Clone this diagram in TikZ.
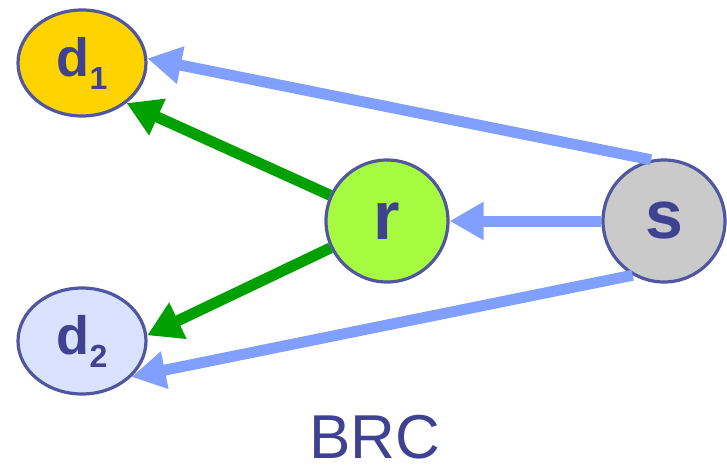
\documentclass[tikz,border=0pt]{standalone}
\usepackage{fontspec}
\setmainfont{Liberation Sans}
\usepackage{xcolor}
\definecolor{brcline}{HTML}{5057A0}
\definecolor{brctext}{HTML}{3F4290}
\definecolor{brcblue}{HTML}{809FFF}
\definecolor{brcgreen}{HTML}{00A000}
\definecolor{brcgold}{HTML}{FFD300}
\definecolor{brcpale}{HTML}{D9E2FF}
\definecolor{brclime}{HTML}{A6FA40}
\definecolor{brcgray}{HTML}{CACACA}
\usepackage{tikz}
\usetikzlibrary{arrows.meta,shapes.geometric}

\begin{document}
\begin{tikzpicture}[x=1pt,y=-1pt,
  dest/.style={ellipse,draw=brcline,line width=3.2pt,minimum width=128pt,minimum height=106pt,
    inner sep=0pt,text=brctext},
  relay/.style={circle,draw=brcline,line width=3.2pt,minimum size=122pt,inner sep=0pt,
    text=brctext,font=\fontsize{68}{68}\selectfont\bfseries},
  barr/.style={-{Triangle[length=34pt,width=36pt]},brcblue,line width=11pt},
  garr/.style={-{Triangle[length=34pt,width=38pt]},brcgreen,line width=11pt}]
\useasboundingbox (0,0) rectangle (727,465);
% destinations
\node[dest,fill=brcgold] (d1) at (82,63)
  {{\fontsize{54}{54}\selectfont\bfseries d}\raisebox{-13pt}{\fontsize{32}{32}\selectfont\bfseries 1}};
\node[dest,fill=brcpale] (d2) at (82,341)
  {{\fontsize{54}{54}\selectfont\bfseries d}\raisebox{-13pt}{\fontsize{32}{32}\selectfont\bfseries 2}};
% relay and source
\node[relay,fill=brclime] (r) at (387,221) {r};
\node[relay,fill=brcgray] (s) at (664,221) {s};
% links
\draw[garr] (r) -- (d1.318);
\draw[garr] (r) -- (d2.5);
\draw[barr] (s.102) -- (d1.4);
\draw[barr] (s) -- (r);
\draw[barr] (s.240) -- (d2.-36);
% caption
\node[text=brctext,font=\fontsize{62}{62}\selectfont,anchor=base,inner sep=0pt] (brc) at (375,458) {BRC};
\end{tikzpicture}
\end{document}
